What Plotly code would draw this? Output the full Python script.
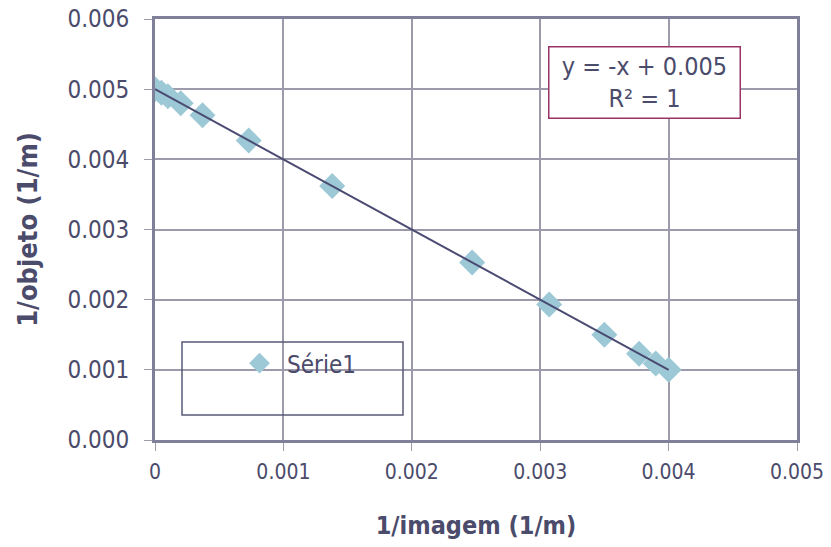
import numpy as np
import plotly.graph_objects as go

inv_imagem = [0.0, 0.00005, 0.0001, 0.0002, 0.00037, 0.00073, 0.00138, 0.00247, 0.00307, 0.0035, 0.00377, 0.0039, 0.004]
inv_objeto = [0.005, 0.00495, 0.0049, 0.0048, 0.00463, 0.00427, 0.00362, 0.00253, 0.00193, 0.0015, 0.00123, 0.00109, 0.001]

x_ticks = [0, 0.001, 0.002, 0.003, 0.004, 0.005]
x_ticklabels = ["0", "0.001", "0.002", "0.003", "0.004", "0.005"]
y_ticks = [0, 0.001, 0.002, 0.003, 0.004, 0.005, 0.006]
y_ticklabels = ["0.000", "0.001", "0.002", "0.003", "0.004", "0.005", "0.006"]

TXT = "#4b4b6b"
GRID = "#9c9aab"
FRAME = "#80809a"
FONT = "DejaVu Sans Condensed, DejaVu Sans"

slope, intercept = np.polyfit(inv_imagem, inv_objeto, 1)
xf = np.array([min(inv_imagem), max(inv_imagem)])
yf = -1 * xf + 0.005

fig = go.Figure()
fig.add_trace(go.Scatter(
    x=inv_imagem, y=inv_objeto, mode="markers", name="Série1",
    marker=dict(symbol="diamond", size=20, color="#9dc9d6"),
))
fig.add_trace(go.Scatter(
    x=xf, y=yf, mode="lines", showlegend=False,
    line=dict(color="#4a4a72", width=2),
))

fig.update_layout(
    width=831, height=547,
    margin=dict(l=155, r=34, t=19, b=107),
    paper_bgcolor="white", plot_bgcolor="white",
    font=dict(family=FONT, color=TXT),
    showlegend=True,
    legend=dict(x=0.12, y=0.235, xanchor="left", yanchor="top",
                bgcolor="rgba(0,0,0,0)", borderwidth=0, itemwidth=45,
                font=dict(size=24, color=TXT)),
    xaxis=dict(range=[0, 0.005], tickvals=x_ticks, ticktext=x_ticklabels,
               showgrid=True, gridcolor=GRID, gridwidth=2,
               showline=True, linecolor=FRAME, linewidth=3, mirror=True,
               ticks="outside", ticklen=8, tickcolor=GRID, ticklabelstandoff=3,
               ticklabeloverflow="allow",
               tickfont=dict(size=21, color=TXT), zeroline=False, automargin=False,
               title=dict(text="<b>1/imagem (1/m)</b>", font=dict(size=25, color=TXT), standoff=34)),
    yaxis=dict(range=[0, 0.006], tickvals=y_ticks, ticktext=y_ticklabels,
               showgrid=True, gridcolor=GRID, gridwidth=2,
               showline=True, linecolor=FRAME, linewidth=3, mirror=True,
               ticks="outside", ticklen=8, tickcolor=GRID, ticklabelstandoff=10,
               ticklabeloverflow="allow",
               tickfont=dict(size=24, color=TXT), zeroline=False, automargin=False,
               title=dict(text="<b>1/objeto (1/m)</b>", font=dict(size=27, color=TXT), standoff=22)),
    shapes=[dict(type="rect", xref="paper", yref="paper",
                 x0=(182 - 155) / 642, x1=(403 - 155) / 642,
                 y0=(440 - 415) / 421, y1=(440 - 342) / 421,
                 line=dict(color="#5a5a78", width=1.5), fillcolor="rgba(0,0,0,0)")],
    annotations=[dict(xref="paper", yref="paper",
                      x=(644 - 155) / 642, y=(440 - 82) / 421,
                      xanchor="center", yanchor="middle",
                      text="y = -x + 0.005<br>R² = 1", showarrow=False,
                      font=dict(size=25, color=TXT), align="center",
                      bordercolor="#993366", borderwidth=1.5, bgcolor="white",
                      width=188, height=68)],
)

fig.write_html("out.html", config={"displayModeBar": False},
               post_script="document.body.style.margin='0';document.body.style.overflow='hidden';")
